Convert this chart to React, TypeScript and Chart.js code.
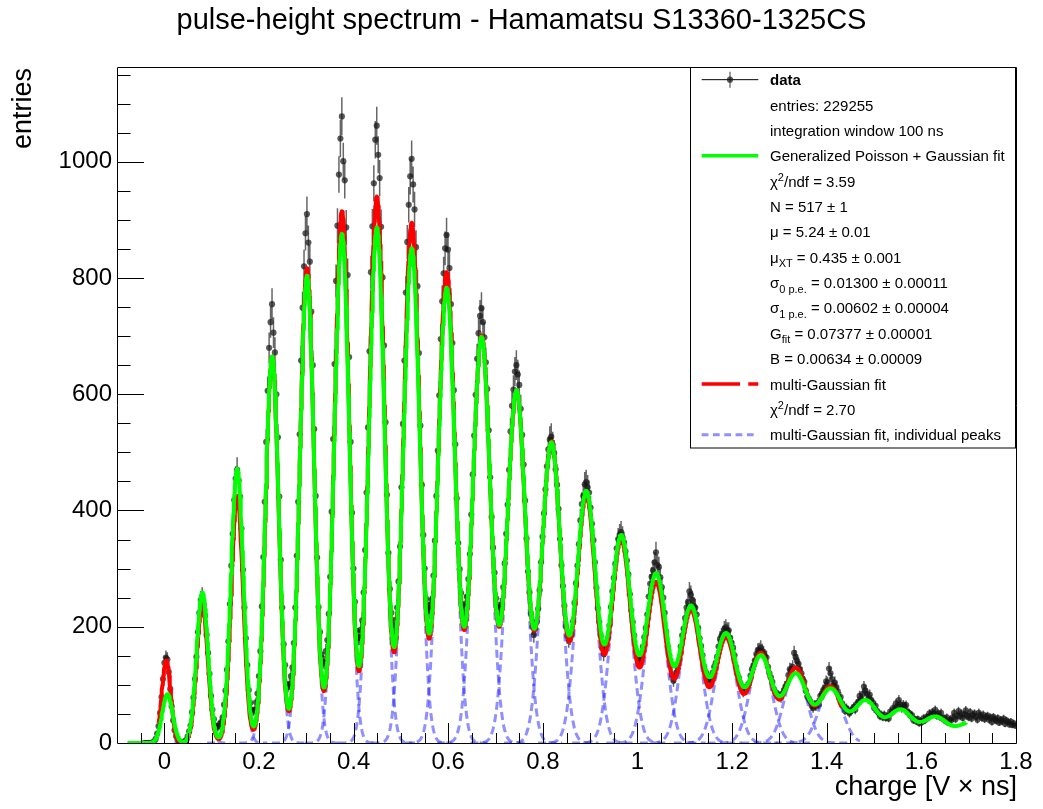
import React, { useEffect, useRef } from "react";
import { Chart, registerables } from "chart.js";

Chart.register(...registerables);

const FONT = "'Liberation Sans', Arial, Helvetica, sans-serif";

// ---- canvas / frame geometry ----
const W = 1043;
const H = 809;
const FRAME_LEFT = 117;
const FRAME_RIGHT = 1016;
const FRAME_TOP = 67;
const FRAME_BOTTOM = 743;

// ---- axes ----
const X_MIN = -0.1;
const X_MAX = 1.8;
const Y_MIN = 0;
const Y_MAX = 1163;
const X_TICKS = [0, 0.2, 0.4, 0.6, 0.8, 1.0, 1.2, 1.4, 1.6, 1.8];
const Y_TICKS = [0, 200, 400, 600, 800, 1000];
const X_MINOR_STEP = 0.05;
const Y_MINOR_STEP = 50;

const TITLE = "pulse-height spectrum - Hamamatsu S13360-1325CS";
const X_TITLE = "charge [V \u00d7 ns]";
const Y_TITLE = "entries";

// ---- fit parameters shown in the legend ----
const ENTRIES = 229255;
const WINDOW_NS = 100;
const GP_CHI2 = "3.59";
const GP_N = "517 \u00b1 1";
const GP_MU = "5.24 \u00b1 0.01";
const GP_MU_XT = "0.435 \u00b1 0.001";
const GP_SIGMA0 = "0.01300 \u00b1 0.00011";
const GP_SIGMA1 = "0.00602 \u00b1 0.00004";
const GAIN = 0.07377; // G_fit, spacing of the photo-electron peaks
const GAIN_TEXT = "0.07377 \u00b1 0.00001";
const PEDESTAL = 0.00634; // B, position of the 0 p.e. peak
const PEDESTAL_TEXT = "0.00634 \u00b1 0.00009";
const MG_CHI2 = "2.70";

// ---- measured histogram (one line per photo-electron peak period) ----
const HIST_BIN_WIDTH = GAIN / 24;
const HIST_FIRST_CENTER = PEDESTAL - 16 * HIST_BIN_WIDTH;
const dataCounts = [
  0, 0, 0, 0, 0, 0, 1, 3, 7, 16, 29, 52, 79, 110, 138, 147, 144, 122, 93, 63, 39, 22, 12, 6, 3, 2, 1, 2,
  3, 5, 11, 20, 30, 53, 78, 110, 148, 191, 224, 246, 252, 238, 219, 186, 155, 119, 81, 57, 41, 30, 26, 29,
  33, 36, 44, 66, 90, 126, 175, 239, 305, 360, 418, 455, 470, 452, 424, 369, 298, 233, 180, 134, 91, 69, 56, 54,
  57, 70, 85, 115, 158, 235, 320, 415, 518, 606, 680, 724, 755, 706, 672, 600, 526, 424, 315, 233, 170, 134, 100, 97,
  101, 115, 130, 172, 233, 322, 415, 531, 658, 749, 820, 877, 910, 861, 828, 742, 650, 540, 425, 319, 234, 191, 152, 140,
  138, 158, 177, 222, 286, 398, 523, 652, 795, 890, 978, 1040, 1078, 1001, 968, 887, 805, 664, 518, 396, 300, 243, 193, 180,
  182, 195, 211, 259, 332, 431, 543, 674, 810, 889, 963, 1038, 1062, 1012, 972, 888, 801, 684, 552, 427, 327, 265, 224, 203,
  192, 212, 233, 278, 338, 440, 549, 658, 775, 862, 926, 975, 1005, 961, 918, 853, 786, 671, 546, 444, 358, 300, 248, 233,
  228, 238, 247, 288, 348, 425, 503, 598, 695, 760, 808, 851, 874, 849, 817, 755, 688, 607, 514, 421, 344, 299, 258, 237,
  226, 240, 252, 282, 325, 393, 462, 529, 599, 661, 705, 735, 748, 724, 698, 655, 609, 538, 457, 389, 336, 293, 249, 233,
  228, 234, 238, 268, 309, 360, 410, 470, 536, 580, 608, 639, 650, 634, 616, 575, 530, 479, 417, 352, 295, 259, 223, 200,
  186, 197, 209, 231, 263, 311, 355, 395, 436, 476, 505, 522, 527, 513, 499, 471, 444, 403, 351, 306, 270, 236, 201, 184,
  177, 182, 187, 209, 241, 275, 305, 342, 383, 411, 425, 445, 449, 440, 431, 405, 377, 349, 311, 267, 232, 208, 184, 163,
  153, 160, 169, 181, 202, 234, 261, 284, 308, 335, 351, 358, 363, 354, 345, 330, 314, 290, 256, 228, 208, 185, 160, 148,
  145, 141, 147, 166, 182, 198, 221, 252, 274, 286, 297, 311, 328, 306, 303, 285, 268, 250, 224, 192, 166, 151, 133, 116,
  107, 114, 121, 128, 143, 166, 185, 197, 215, 233, 242, 261, 255, 246, 236, 233, 221, 198, 180, 167, 151, 132, 121, 117,
  114, 108, 110, 121, 131, 137, 148, 166, 179, 184, 188, 196, 199, 194, 194, 181, 172, 164, 151, 131, 118, 112, 103, 93,
  88, 92, 95, 97, 102, 116, 127, 133, 142, 153, 159, 160, 164, 158, 154, 149, 147, 131, 120, 113, 105, 93, 86, 84,
  82, 80, 78, 85, 91, 97, 102, 117, 127, 126, 131, 155, 148, 141, 136, 127, 120, 110, 105, 90, 80, 77, 72, 64,
  60, 66, 63, 69, 66, 81, 84, 91, 95, 106, 104, 128, 120, 110, 99, 104, 96, 89, 77, 79, 68, 63, 55, 60,
  56, 51, 55, 58, 62, 57, 67, 71, 81, 75, 84, 97, 90, 85, 76, 83, 74, 70, 60, 64, 55, 52, 46, 49,
  44, 49, 43, 46, 42, 54, 52, 60, 57, 68, 63, 74, 66, 60, 66, 63, 65, 53, 52, 47, 48, 39, 41, 37,
  41, 34, 38, 36, 43, 39, 45, 43, 51, 48, 53, 50, 57, 47, 51, 45, 52, 42, 43, 38, 44, 35, 40, 39,
  44, 52, 41, 47, 55, 46, 51, 43, 49, 56, 47, 44, 53, 42, 48, 51, 45, 40, 52, 47, 43, 49, 41, 45,
  47, 40, 44, 36, 45, 41, 38, 43, 35, 40, 37, 42, 33, 39, 36, 32, 37, 31, 34, 30,
];

// ---- generalized Poisson + Gaussian fit: peak heights and widths ----
const greenPeakHeight = [
  84, 259, 472, 665, 804, 876, 887, 851, 783, 698, 606, 516, 432,
  356, 290, 234, 187, 149, 118, 92, 72, 56, 44, 34, 26,
];
const greenPeakSigma = [
  0.011, 0.0121, 0.0131, 0.0141, 0.015, 0.0158, 0.0166, 0.0174, 0.0181,
  0.0188, 0.0195, 0.0201, 0.0208, 0.0214, 0.022, 0.0226, 0.0231, 0.0237,
  0.0242, 0.0247, 0.0253, 0.0258, 0.0263, 0.0268, 0.0272,
];
const GREEN_X_MIN = -0.078;
const GREEN_X_MAX = 1.694;

// ---- multi-Gaussian fit ----
const redPeakMean = [
  0.004, 0.0801, 0.1539, 0.2277, 0.3014, 0.3752, 0.449, 0.5227, 0.5965,
  0.6703, 0.744, 0.8178, 0.8916, 0.9654, 1.0391, 1.1129, 1.1867, 1.2604,
  1.3342, 1.408,
];
const redPeakHeight = [
  142, 238, 425, 665, 817, 915, 940, 895, 810, 700, 605, 518, 425, 350,
  276, 228, 181, 154, 128, 97,
];
const redPeakSigma = [
  0.0095, 0.0118, 0.0127, 0.0139, 0.0148, 0.0155, 0.0162, 0.017, 0.0178,
  0.0187, 0.0194, 0.02, 0.0203, 0.0207, 0.021, 0.0215, 0.022, 0.0225,
  0.023, 0.024,
];
const RED_X_MIN = -0.012;
const RED_X_MAX = 1.43;
const INDIV_X_MIN = 0.005;
const INDIV_X_MAX = 1.47;
const INDIV_HALF_RANGE_SIGMAS = 5;

const CURVE_STEP = 0.001;

const GREEN = "rgb(0,255,0)";
const RED = "rgb(255,0,0)";
const BLUE = "rgba(20,20,255,0.48)";
const POINT_FILL = "rgba(20,20,20,0.7)";
const ERR_COLOR = "rgba(0,0,0,0.6)";

function gauss(x: number, mean: number, height: number, sigma: number) {
  const d = (x - mean) / sigma;
  return height * Math.exp(-0.5 * d * d);
}

function sampleCurve(x0: number, x1: number, f: (x: number) => number) {
  const pts: { x: number; y: number }[] = [];
  const n = Math.max(2, Math.round((x1 - x0) / CURVE_STEP));
  for (let i = 0; i <= n; i++) {
    const x = x0 + ((x1 - x0) * i) / n;
    pts.push({ x, y: f(x) });
  }
  return pts;
}

const greenMean = (n: number) => PEDESTAL + n * GAIN;

function greenModel(x: number) {
  let s = 0;
  for (let n = 0; n < greenPeakHeight.length; n++) {
    s += gauss(x, greenMean(n), greenPeakHeight[n], greenPeakSigma[n]);
  }
  return s;
}

function redModel(x: number) {
  let s = 0;
  for (let n = 0; n < redPeakHeight.length; n++) {
    s += gauss(x, redPeakMean[n], redPeakHeight[n], redPeakSigma[n]);
  }
  return s;
}

type Seg = { t: string; kind?: "sub" | "sup"; bold?: boolean };

function drawRich(ctx: CanvasRenderingContext2D, segs: Seg[], x: number, baseline: number, size: number) {
  let cx = x;
  for (const s of segs) {
    const small = s.kind ? Math.round(size * 0.7) : size;
    ctx.font = `${s.bold ? "bold " : ""}${small}px ${FONT}`;
    const dy = s.kind === "sub" ? size * 0.3 : s.kind === "sup" ? -size * 0.4 : 0;
    ctx.fillText(s.t, cx, baseline + dy);
    cx += ctx.measureText(s.t).width;
  }
}

const errorBarPlugin = {
  id: "errorBars",
  beforeDatasetsDraw(chart: any) {
    const { ctx, chartArea: a, scales } = chart;
    const xs = scales.x;
    const ys = scales.y;
    ctx.save();
    ctx.beginPath();
    ctx.rect(a.left, a.top, a.right - a.left, a.bottom - a.top);
    ctx.clip();
    ctx.strokeStyle = ERR_COLOR;
    ctx.lineWidth = 1.5;
    ctx.beginPath();
    dataCounts.forEach((c, i) => {
      const cx = HIST_FIRST_CENTER + i * HIST_BIN_WIDTH;
      const px = xs.getPixelForValue(cx);
      const err = Math.sqrt(c);
      ctx.moveTo(px, ys.getPixelForValue(c - err));
      ctx.lineTo(px, ys.getPixelForValue(c + err));
      const py = ys.getPixelForValue(c);
      ctx.moveTo(xs.getPixelForValue(cx - HIST_BIN_WIDTH / 2), py);
      ctx.lineTo(xs.getPixelForValue(cx + HIST_BIN_WIDTH / 2), py);
    });
    ctx.stroke();
    ctx.restore();
  },
};

const framePlugin = {
  id: "frameTicks",
  afterDatasetsDraw(chart: any) {
    const { ctx, chartArea: a, scales } = chart;
    const xs = scales.x;
    const ys = scales.y;
    ctx.save();
    ctx.strokeStyle = "#000";
    ctx.lineWidth = 1;
    ctx.beginPath();
    ctx.rect(Math.round(a.left) + 0.5, Math.round(a.top) + 0.5, Math.round(a.right - a.left), Math.round(a.bottom - a.top));
    ctx.stroke();

    ctx.beginPath();
    const nx = Math.round((X_MAX - X_MIN) / X_MINOR_STEP);
    for (let i = 1; i < nx; i++) {
      const v = X_MIN + i * X_MINOR_STEP;
      const major = X_TICKS.some((t) => Math.abs(t - v) < 1e-6);
      const px = Math.round(xs.getPixelForValue(v)) + 0.5;
      ctx.moveTo(px, a.bottom);
      ctx.lineTo(px, a.bottom - (major ? 20 : 10));
    }
    const ny = Math.floor((Y_MAX - Y_MIN) / Y_MINOR_STEP);
    for (let i = 1; i <= ny; i++) {
      const v = Y_MIN + i * Y_MINOR_STEP;
      const major = Y_TICKS.includes(v);
      const py = Math.round(ys.getPixelForValue(v)) + 0.5;
      ctx.moveTo(a.left, py);
      ctx.lineTo(a.left + (major ? 27 : 13.5), py);
    }
    ctx.stroke();
    ctx.restore();
  },
};

const textPlugin = {
  id: "texts",
  afterDraw(chart: any) {
    const { ctx } = chart;
    ctx.save();
    ctx.fillStyle = "#000";

    // title
    ctx.font = `29px ${FONT}`;
    ctx.textAlign = "center";
    ctx.textBaseline = "alphabetic";
    ctx.fillText(TITLE, W / 2, 29);

    // axis titles
    ctx.font = `27px ${FONT}`;
    ctx.textAlign = "right";
    ctx.fillText(X_TITLE, FRAME_RIGHT + 1, 795);
    ctx.save();
    ctx.translate(31, FRAME_TOP + 1);
    ctx.rotate(-Math.PI / 2);
    ctx.textAlign = "right";
    ctx.fillText(Y_TITLE, 0, 0);
    ctx.restore();

    // legend
    const L = 690;
    const R = 1015;
    const T = FRAME_TOP;
    const B = 447.5;
    ctx.fillStyle = "#fff";
    ctx.fillRect(L, T, R - L, B - T);
    ctx.strokeStyle = "#000";
    ctx.lineWidth = 1;
    ctx.strokeRect(L + 0.5, T + 0.5, R - L, B - T);

    const rows = 15;
    const rh = (B - T) / rows;
    const cy = (i: number) => T + rh * (i + 0.5);
    const sx0 = 701.7;
    const sx1 = 758.3;
    const tx = 770;
    const fs = 15;

    // data symbol
    ctx.strokeStyle = "#000";
    ctx.lineWidth = 1;
    ctx.beginPath();
    ctx.moveTo(sx0, cy(0));
    ctx.lineTo(sx1, cy(0));
    ctx.stroke();
    ctx.strokeStyle = ERR_COLOR;
    ctx.lineWidth = 1.3;
    ctx.beginPath();
    ctx.moveTo(730, cy(0) - 8);
    ctx.lineTo(730, cy(0) + 8);
    ctx.stroke();
    ctx.fillStyle = POINT_FILL;
    ctx.beginPath();
    ctx.arc(730, cy(0), 3.1, 0, Math.PI * 2);
    ctx.fill();

    // generalized Poisson fit symbol
    ctx.strokeStyle = GREEN;
    ctx.lineWidth = 3.5;
    ctx.beginPath();
    ctx.moveTo(sx0, cy(3));
    ctx.lineTo(sx1, cy(3));
    ctx.stroke();

    // multi-Gaussian fit symbol
    ctx.strokeStyle = RED;
    ctx.beginPath();
    ctx.moveTo(sx0, cy(12));
    ctx.lineTo(740, cy(12));
    ctx.moveTo(748.3, cy(12));
    ctx.lineTo(sx1, cy(12));
    ctx.stroke();

    // individual peaks symbol
    ctx.strokeStyle = BLUE;
    ctx.lineWidth = 3;
    ctx.setLineDash([6.7, 4.6]);
    ctx.beginPath();
    ctx.moveTo(sx0, cy(14));
    ctx.lineTo(sx1, cy(14));
    ctx.stroke();
    ctx.setLineDash([]);

    ctx.fillStyle = "#000";
    ctx.textAlign = "left";
    ctx.textBaseline = "alphabetic";
    const lines: Seg[][] = [
      [{ t: "data", bold: true }],
      [{ t: `entries: ${ENTRIES}` }],
      [{ t: `integration window ${WINDOW_NS} ns` }],
      [{ t: "Generalized Poisson + Gaussian fit" }],
      [{ t: "\u03c7" }, { t: "2", kind: "sup" }, { t: `/ndf = ${GP_CHI2}` }],
      [{ t: `N = ${GP_N}` }],
      [{ t: `\u03bc = ${GP_MU}` }],
      [{ t: "\u03bc" }, { t: "XT", kind: "sub" }, { t: ` = ${GP_MU_XT}` }],
      [{ t: "\u03c3" }, { t: "0 p.e.", kind: "sub" }, { t: ` = ${GP_SIGMA0}` }],
      [{ t: "\u03c3" }, { t: "1 p.e.", kind: "sub" }, { t: ` = ${GP_SIGMA1}` }],
      [{ t: "G" }, { t: "fit", kind: "sub" }, { t: ` = ${GAIN_TEXT}` }],
      [{ t: `B = ${PEDESTAL_TEXT}` }],
      [{ t: "multi-Gaussian fit" }],
      [{ t: "\u03c7" }, { t: "2", kind: "sup" }, { t: `/ndf = ${MG_CHI2}` }],
      [{ t: "multi-Gaussian fit, individual peaks" }],
    ];
    lines.forEach((segs, i) => drawRich(ctx, segs, tx, cy(i) + 5.5, fs));
    ctx.restore();
  },
};

export default function App() {
  const ref = useRef<HTMLCanvasElement | null>(null);

  useEffect(() => {
    if (!ref.current) return;

    const dataPoints = dataCounts.map((c, i) => ({ x: HIST_FIRST_CENTER + i * HIST_BIN_WIDTH, y: c }));
    const greenPts = sampleCurve(GREEN_X_MIN, GREEN_X_MAX, greenModel);
    const redPts = sampleCurve(RED_X_MIN, RED_X_MAX, redModel);

    const lineBase = {
      showLine: true,
      pointRadius: 0,
      pointHoverRadius: 0,
      fill: false,
      tension: 0,
      borderJoinStyle: "round" as const,
    };

    const datasets: any[] = [
      { ...lineBase, label: "Generalized Poisson + Gaussian fit", data: greenPts, borderColor: GREEN, borderWidth: 4, order: 0 },
      { ...lineBase, label: "multi-Gaussian fit", data: redPts, borderColor: RED, borderWidth: 4, order: 1 },
    ];
    redPeakMean.forEach((m, n) => {
      const s = redPeakSigma[n];
      const x0 = Math.max(INDIV_X_MIN, m - INDIV_HALF_RANGE_SIGMAS * s);
      const x1 = Math.min(INDIV_X_MAX, m + INDIV_HALF_RANGE_SIGMAS * s);
      datasets.push({
        ...lineBase,
        label: `peak ${n}`,
        data: sampleCurve(x0, x1, (x) => gauss(x, m, redPeakHeight[n], s)),
        borderColor: BLUE,
        borderWidth: 3,
        borderDash: [8, 4.5],
        clip: 0,
        order: 2,
      });
    });
    datasets.push({
      label: "data",
      data: dataPoints,
      showLine: false,
      pointRadius: 3.1,
      pointHoverRadius: 3.1,
      pointBackgroundColor: POINT_FILL,
      pointBorderWidth: 0,
      order: 3,
    });

    const chart = new Chart(ref.current, {
      type: "scatter",
      data: { datasets },
      options: {
        animation: false,
        responsive: false,
        devicePixelRatio: 1,
        events: [],
        layout: { padding: { top: FRAME_TOP, right: W - FRAME_RIGHT, left: 0, bottom: 0 } },
        plugins: { legend: { display: false }, tooltip: { enabled: false }, title: { display: false } },
        scales: {
          x: {
            type: "linear",
            min: X_MIN,
            max: X_MAX,
            grid: { display: false, drawTicks: false },
            border: { display: false },
            ticks: {
              color: "#000",
              font: { family: FONT, size: 24 },
              padding: 5,
              maxRotation: 0,
              autoSkip: false,
              callback: (v: any) => String(Number(Number(v).toFixed(1))),
            },
            afterBuildTicks: (s: any) => {
              s.ticks = X_TICKS.map((v) => ({ value: v }));
            },
            afterFit: (s: any) => {
              s.height = H - FRAME_BOTTOM;
            },
          },
          y: {
            type: "linear",
            min: Y_MIN,
            max: Y_MAX,
            grid: { display: false, drawTicks: false },
            border: { display: false },
            ticks: {
              color: "#000",
              font: { family: FONT, size: 24 },
              padding: 5,
              autoSkip: false,
              callback: (v: any) => String(v),
            },
            afterBuildTicks: (s: any) => {
              s.ticks = Y_TICKS.map((v) => ({ value: v }));
            },
            afterFit: (s: any) => {
              s.width = FRAME_LEFT;
            },
          },
        },
      },
      plugins: [errorBarPlugin, framePlugin, textPlugin],
    });

    return () => chart.destroy();
  }, []);

  return (
    <div style={{ position: "absolute", left: 0, top: 0, width: W, height: H, background: "#fff" }}>
      <canvas ref={ref} width={W} height={H} style={{ display: "block", width: W, height: H }} />
    </div>
  );
}
